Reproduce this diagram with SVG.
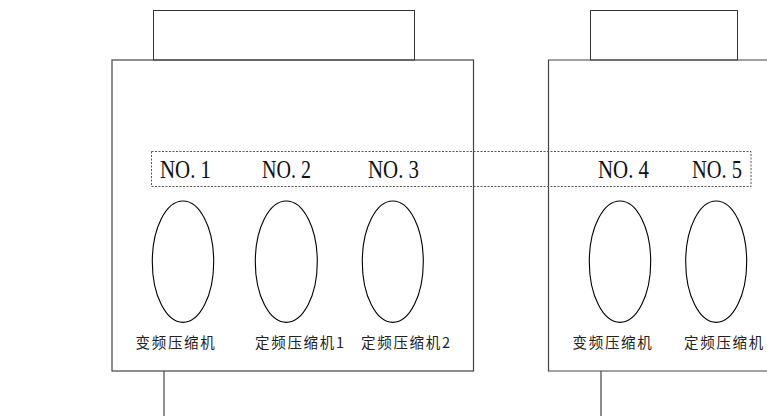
<svg xmlns="http://www.w3.org/2000/svg" width="767" height="416" viewBox="0 0 767 416">
<style>
.box{fill:none;stroke:#444;stroke-width:1.2}
.top{fill:none;stroke:#333;stroke-width:1}
.dash{fill:none;stroke:#555;stroke-width:1;stroke-dasharray:2 1.5}
.ell{fill:none;stroke:#000;stroke-width:1.1}
.no{font-family:"Liberation Serif",serif;font-size:26px;fill:#111}
.lab{font-family:"Noto Sans CJK SC","Noto Sans CJK JP",sans-serif;font-size:14.5px;fill:#222;letter-spacing:1.7px}
</style>
<rect width="767" height="416" fill="#fff"/>
<g id="unit-left">
<rect class="top" x="153.5" y="10.5" width="261" height="49.5"/>
<rect class="box" x="112" y="60" width="361.5" height="311"/>
<line class="box" x1="164" y1="371" x2="164" y2="416"/>
</g>
<g id="unit-right">
<rect class="top" x="590.5" y="10.5" width="147" height="49.5"/>
<path class="box" d="M767 60 H548.5 V371 H767"/>
<line class="box" x1="601" y1="371" x2="601" y2="416"/>
</g>
<g id="numbers">
<rect class="dash" x="151.5" y="151.5" width="599.5" height="35"/>
<text class="no" x="160" y="178" textLength="51" lengthAdjust="spacingAndGlyphs">NO. 1</text>
<text class="no" x="262" y="178" textLength="49" lengthAdjust="spacingAndGlyphs">NO. 2</text>
<text class="no" x="368" y="178" textLength="51" lengthAdjust="spacingAndGlyphs">NO. 3</text>
<text class="no" x="598" y="178" textLength="51" lengthAdjust="spacingAndGlyphs">NO. 4</text>
<text class="no" x="692" y="178" textLength="50" lengthAdjust="spacingAndGlyphs">NO. 5</text>
</g>
<g id="comp1"><ellipse class="ell" cx="183" cy="261.7" rx="30.7" ry="60.7"/><text class="lab" x="135.5" y="348">变频压缩机</text></g>
<g id="comp2"><ellipse class="ell" cx="286.3" cy="261.7" rx="31" ry="60.7"/><text class="lab" x="255" y="348">定频压缩机1</text></g>
<g id="comp3"><ellipse class="ell" cx="392.8" cy="261.7" rx="30.5" ry="60.7"/><text class="lab" x="361" y="348">定频压缩机2</text></g>
<g id="comp4"><ellipse class="ell" cx="620" cy="261.7" rx="30.7" ry="60.7"/><text class="lab" x="572.5" y="348">变频压缩机</text></g>
<g id="comp5"><ellipse class="ell" cx="716.2" cy="261.7" rx="30.5" ry="60.7"/><text class="lab" x="684" y="348">定频压缩机</text></g>
<g id="connectors"></g>
</svg>
